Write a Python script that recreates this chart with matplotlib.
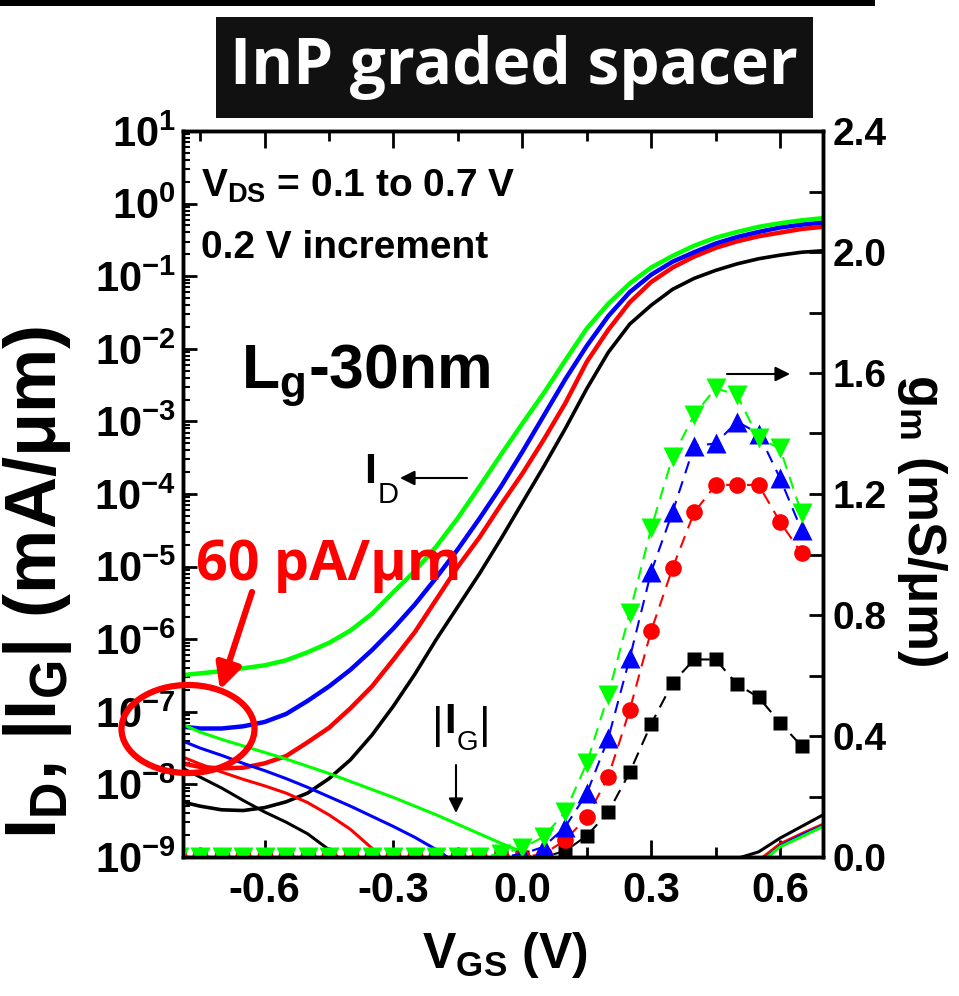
import numpy as np
import matplotlib
matplotlib.use('Agg')
import matplotlib.pyplot as plt
from matplotlib.patches import Ellipse, Rectangle, FancyArrowPatch
from matplotlib.ticker import LogLocator, FixedLocator, FormatStrFormatter, FuncFormatter, MultipleLocator

plt.rc('font', family=['Liberation Sans', 'DejaVu Sans'], weight='bold')
plt.rc('mathtext', fontset='custom', rm='Liberation Sans:bold', bf='Liberation Sans:bold',
       it='Liberation Sans:bold', sf='Liberation Sans:bold')
plt.rc('axes', unicode_minus=False)

W, H = 959, 996

# ---- data ----
vgs = [-0.80, -0.75, -0.70, -0.65, -0.60, -0.55, -0.50, -0.45, -0.40, -0.35, -0.30,
       -0.25, -0.20, -0.15, -0.10, -0.05, 0.00, 0.05, 0.10, 0.15, 0.20, 0.25, 0.30,
       0.35, 0.40, 0.45, 0.50, 0.55, 0.60, 0.65, 0.70]

# log10 of I_D (mA/um) for VDS = 0.1, 0.3, 0.5, 0.7 V
log_id_01 = [-8.23, -8.30, -8.35, -8.36, -8.32, -8.24, -8.12, -7.92, -7.66, -7.32, -6.92,
             -6.48, -6.00, -5.55, -5.10, -4.62, -4.12, -3.62, -3.10, -2.55, -2.05, -1.66,
             -1.40, -1.18, -1.03, -0.92, -0.83, -0.76, -0.71, -0.67, -0.65]
log_id_03 = [-7.70, -7.76, -7.78, -7.77, -7.71, -7.61, -7.42, -7.22, -6.95, -6.65, -6.28,
             -5.90, -5.45, -5.00, -4.60, -4.15, -3.72, -3.25, -2.75, -2.18, -1.74, -1.36,
             -1.08, -0.88, -0.73, -0.61, -0.52, -0.45, -0.40, -0.35, -0.32]
log_id_05 = [-7.20, -7.23, -7.23, -7.20, -7.14, -7.03, -6.85, -6.65, -6.42, -6.15, -5.85,
             -5.52, -5.15, -4.76, -4.34, -3.90, -3.42, -2.92, -2.42, -1.96, -1.55, -1.22,
             -0.98, -0.80, -0.67, -0.55, -0.46, -0.39, -0.33, -0.29, -0.26]
log_id_07 = [-6.50, -6.47, -6.44, -6.40, -6.36, -6.29, -6.18, -6.05, -5.88, -5.65, -5.35,
             -5.06, -4.72, -4.33, -3.90, -3.46, -3.03, -2.61, -2.16, -1.72, -1.38, -1.10,
             -0.88, -0.72, -0.58, -0.47, -0.39, -0.32, -0.27, -0.23, -0.20]

# log10 of |I_G| (mA/um); -9.5 = below the plotted floor
log_ig_01 = [-7.75, -7.90, -8.05, -8.22, -8.38, -8.52, -8.68, -8.90, -9.15, -9.5, -9.5,
             -9.5, -9.5, -9.5, -9.5, -9.5, -9.5, -9.5, -9.5, -9.5, -9.5, -9.5,
             -9.5, -9.5, -9.5, -9.5, -9.02, -8.93, -8.74, -8.58, -8.42]
log_ig_03 = [-7.60, -7.72, -7.83, -7.93, -8.02, -8.12, -8.25, -8.42, -8.62, -8.88, -9.2,
             -9.5, -9.5, -9.5, -9.5, -9.5, -9.5, -9.5, -9.5, -9.5, -9.5, -9.5,
             -9.5, -9.5, -9.5, -9.5, -9.5, -9.05, -8.82, -8.68, -8.55]
log_ig_05 = [-7.38, -7.50, -7.60, -7.71, -7.81, -7.92, -8.04, -8.17, -8.30, -8.44, -8.58,
             -8.73, -8.90, -9.1, -9.5, -9.5, -9.5, -9.5, -9.5, -9.5, -9.5, -9.5,
             -9.5, -9.5, -9.5, -9.5, -9.5, -9.1, -8.85, -8.70, -8.57]
log_ig_07 = [-7.15, -7.28, -7.38, -7.47, -7.56, -7.65, -7.75, -7.85, -7.96, -8.07, -8.18,
             -8.30, -8.42, -8.55, -8.68, -8.81, -8.93, -9.1, -9.5, -9.5, -9.5, -9.5,
             -9.5, -9.5, -9.5, -9.5, -9.5, -9.1, -8.86, -8.72, -8.58]

# gm (mS/um)
vgs_gm = [-0.80, -0.75, -0.70, -0.65, -0.60, -0.55, -0.50, -0.45, -0.40, -0.35, -0.30,
          -0.25, -0.20, -0.15, -0.10, -0.05, 0.00, 0.05, 0.10, 0.15, 0.20, 0.25, 0.30,
          0.35, 0.40, 0.45, 0.50, 0.55, 0.60, 0.65]
gm_01 = [0, 0, 0, 0, 0, 0, 0, 0, 0, 0, 0, 0, 0, 0, 0, 0, 0, 0,
         0.02, 0.07, 0.148, 0.28, 0.44, 0.576, 0.653, 0.653, 0.571, 0.528, 0.444, 0.367]
gm_03 = [0, 0, 0, 0, 0, 0, 0, 0, 0, 0, 0, 0, 0, 0, 0, 0, 0,
         0.01, 0.056, 0.131, 0.265, 0.486, 0.748, 0.956, 1.139, 1.23, 1.23, 1.23, 1.108, 1.004]
gm_05 = [0, 0, 0, 0, 0, 0, 0, 0, 0, 0, 0, 0, 0, 0, 0, 0,
         0.01, 0.034, 0.10, 0.21, 0.392, 0.657, 0.943, 1.141, 1.359, 1.367, 1.439, 1.40, 1.252, 1.081]
gm_07 = [0, 0, 0, 0, 0, 0, 0, 0, 0, 0, 0, 0, 0, 0, 0,
         0.01, 0.03, 0.067, 0.15, 0.31, 0.536, 0.806, 1.087, 1.323, 1.461, 1.55, 1.527, 1.384, 1.351, 1.136]

colors = ['black', '#ff0000', '#0000ff', '#00ff00']
markers = ['s', 'o', '^', 'v']
msizes = [10.5, 12, 14, 15]


def fx(x):
    return x / W


def fy(y):
    return 1 - y / H


fig = plt.figure(figsize=(W / 100, H / 100), dpi=100)
ax = fig.add_axes([fx(183), fy(857), (823 - 183) / W, (857 - 131) / H])

for c, lid, lig in zip(colors, [log_id_01, log_id_03, log_id_05, log_id_07],
                       [log_ig_01, log_ig_03, log_ig_05, log_ig_07]):
    lw = 2.6 if c == 'black' else 3.2
    ax.plot(vgs, 10 ** np.array(lid), color=c, lw=lw)
    ax.plot(vgs, 10 ** np.array(lig), color=c, lw=2.2)

ax.set_yscale('log')
ax.set_xlim(-0.79, 0.70)
ax.set_ylim(1e-9, 10)
ax.yaxis.set_major_locator(LogLocator(base=10, numticks=20))
ax.yaxis.set_minor_locator(LogLocator(base=10, subs=np.arange(2, 10), numticks=100))
ax.yaxis.set_major_formatter(FuncFormatter(lambda v, p: r'$10^{%d}$' % round(np.log10(v))))
ax.xaxis.set_major_locator(FixedLocator([-0.6, -0.3, 0.0, 0.3, 0.6]))
ax.xaxis.set_minor_locator(FixedLocator([-0.75, -0.45, -0.15, 0.15, 0.45]))
ax.xaxis.set_major_formatter(FormatStrFormatter('%.1f'))
ax.tick_params(axis='x', which='both', direction='in', top=True, bottom=True, labelsize=30, pad=10)
ax.tick_params(axis='x', which='major', length=12, width=2)
ax.tick_params(axis='x', which='minor', length=7, width=2)
ax.tick_params(axis='y', which='both', direction='in', left=True, right=False, labelsize=30, pad=5)
ax.tick_params(axis='y', which='major', length=10, width=2)
ax.tick_params(axis='y', which='minor', length=5, width=1.5)

ax2 = ax.twinx()
for c, m, ms, g in zip(colors, markers, msizes, [gm_01, gm_03, gm_05, gm_07]):
    ax2.plot(vgs_gm, g, color=c, lw=1.5, ls=(0, (6, 4)), marker=m, ms=ms, mfc=c, mec='none')
ax2.set_ylim(0, 2.4)
ax2.yaxis.set_major_locator(MultipleLocator(0.4))
ax2.yaxis.set_minor_locator(MultipleLocator(0.2))
ax2.yaxis.set_major_formatter(FormatStrFormatter('%.1f'))
ax2.tick_params(axis='y', which='both', direction='in', labelsize=28, pad=7, length=10, width=2)

for a in (ax, ax2):
    for s in a.spines.values():
        s.set_linewidth(2.5)

# axis labels
fig.text(fx(38), fy(582), 'I$_D$, |I$_G$| (mA/μm)', rotation=90, ha='center', va='center', fontsize=52)
fig.text(fx(922), fy(520), 'g$_m$ (mS/μm)', rotation=270, ha='center', va='center', fontsize=38)
fig.text(fx(505), fy(968), 'V$_{GS}$ (V)', ha='center', va='baseline', fontsize=36)

# title box and top rule
fig.patches.append(Rectangle((0, fy(6)), fx(875), 6 / H, transform=fig.transFigure,
                             facecolor='black', edgecolor='none'))
fig.patches.append(Rectangle((fx(216), fy(118)), (813 - 216) / W, (118 - 17) / H,
                             transform=fig.transFigure, facecolor='#111111', edgecolor='none'))
fig.text(fx(514), fy(68), 'InP graded spacer', color='white', ha='center', va='center',
         fontsize=46, family=['Open Sans', 'DejaVu Sans'], weight='bold')

# annotations inside the plot
fig.text(fx(201), fy(197), 'V$_{DS}$ = 0.1 to 0.7 V', fontsize=28, ha='left', va='baseline')
fig.text(fx(201), fy(258), '0.2 V increment', fontsize=28, ha='left', va='baseline')
fig.text(fx(241), fy(388), 'L$_g$-30nm', fontsize=45, ha='left', va='baseline')
fig.text(fx(196), fy(580), '60 pA/μm', fontsize=40, color='#ff0000', ha='left', va='baseline',
         family=['Open Sans', 'DejaVu Sans'], weight='bold')

fig.text(fx(364), fy(483), 'I', fontsize=31, ha='left', va='baseline')
fig.text(fx(378), fy(503), 'D', fontsize=21, ha='left', va='baseline', weight='normal')
fig.text(fx(432), fy(738), '|', fontsize=32, ha='left', va='baseline', weight='normal')
fig.text(fx(444), fy(733), 'I', fontsize=30, ha='left', va='baseline')
fig.text(fx(457), fy(750), 'G', fontsize=20, ha='left', va='baseline', weight='normal')
fig.text(fx(479), fy(738), '|', fontsize=32, ha='left', va='baseline', weight='normal')


def arrow(x0, y0, x1, y1, color='black', lw=1.5, scale=22):
    fig.patches.append(FancyArrowPatch((fx(x0), fy(y0)), (fx(x1), fy(y1)), transform=fig.transFigure,
                                       arrowstyle='-|>', mutation_scale=scale, color=color, lw=lw,
                                       shrinkA=0, shrinkB=0))


arrow(467, 478, 400, 478)
arrow(456, 765, 456, 813)
arrow(727, 374, 790, 374)
arrow(252, 592, 220, 690, color='#ff0000', lw=4.5, scale=38)

fig.patches.append(Ellipse((fx(188), fy(729)), 133 / W, 88 / H, transform=fig.transFigure,
                           facecolor='none', edgecolor='#ff0000', lw=4.5))

fig.savefig('out.png', dpi=100)
